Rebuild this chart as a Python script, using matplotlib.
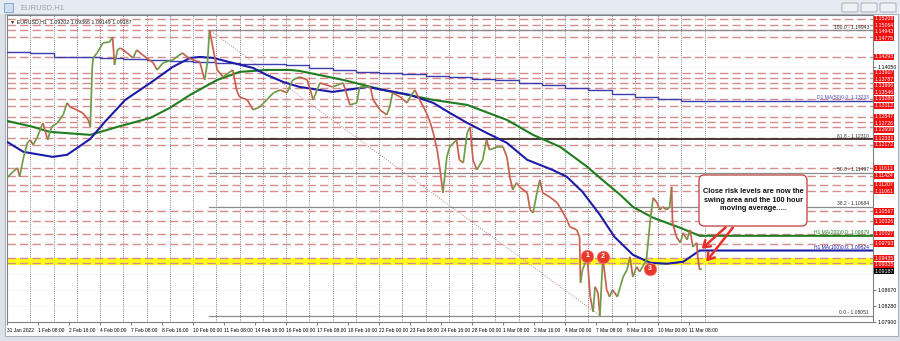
import matplotlib
matplotlib.use("Agg")
import matplotlib.pyplot as plt
import matplotlib.transforms as mtransforms
from matplotlib.collections import LineCollection
from matplotlib.patches import Rectangle, FancyBboxPatch
import numpy as np

plt.rcParams['font.family'] = ['Liberation Sans', 'DejaVu Sans']

# EURUSD H1, price path (bar = hours since 31 Jan 00:00, weekends skipped)
bars = [0, 6, 11, 13, 17, 21, 24, 27, 31, 37, 42, 46, 52, 58, 62, 65, 72, 78, 84, 86,
        88, 89, 93, 99, 106, 109, 111, 114, 117, 124, 130, 134, 140, 151, 155, 161, 171, 181, 186, 192,
        199, 204, 207, 209, 213, 217, 223, 233, 237, 240, 248, 254, 261, 268, 275, 282, 289, 295, 302, 310,
        316, 323, 336, 347, 354, 361, 364, 375, 378, 385, 392, 395, 398, 406, 413, 416, 421, 426, 433, 437,
        440, 444, 447, 450, 454, 457, 464, 467, 471, 475, 478, 481, 485, 491, 495, 498, 506, 512, 516, 519,
        522, 526, 529, 537, 540, 543, 547, 550, 553, 560, 568, 574, 578, 581, 588, 591, 592, 594, 599, 602,
        605, 607, 610, 612, 615, 619, 622, 625, 630, 633, 636, 640, 643, 646, 650, 653, 656, 660, 664, 667,
        671, 674, 677, 681, 684, 686, 687, 691, 695, 698, 702, 705, 708, 712, 713, 715, 717]
prices = [1.11377, 1.11522, 1.11618, 1.11401, 1.11859, 1.12221, 1.12293, 1.12173, 1.12341, 1.12703,
          1.12293, 1.12606, 1.12703, 1.12896, 1.13185, 1.13088, 1.13016, 1.12944, 1.12775, 1.12606,
          1.14052, 1.14269, 1.14390, 1.14631, 1.14655, 1.14775, 1.14101, 1.14462, 1.14510, 1.14390,
          1.14269, 1.14462, 1.14342, 1.14149, 1.13980, 1.14149, 1.14221, 1.14390, 1.14293, 1.14221,
          1.14173, 1.13739, 1.14173, 1.14943, 1.14462, 1.13980, 1.13811, 1.13980, 1.13498, 1.13329,
          1.13257, 1.13016, 1.13088, 1.13257, 1.13426, 1.13498, 1.13426, 1.13739, 1.13811, 1.13739,
          1.13257, 1.13667, 1.13570, 1.13667, 1.13136, 1.13185, 1.13570, 1.13570, 1.13257, 1.13016,
          1.12896, 1.13088, 1.13426, 1.13329, 1.13185, 1.13329, 1.13498, 1.13257, 1.12944, 1.12703,
          1.12462, 1.12052, 1.11570, 1.11016, 1.11883, 1.12124, 1.12293, 1.11811, 1.11739, 1.12462,
          1.12606, 1.11811, 1.11570, 1.11811, 1.12293, 1.12052, 1.12124, 1.12124, 1.11883, 1.11401,
          1.11088, 1.11257, 1.11160, 1.11016, 1.10606, 1.10534, 1.11016, 1.11329, 1.11016, 1.10919,
          1.10775, 1.10534, 1.10365, 1.10196, 1.10124, 1.09955, 1.08847, 1.09160, 1.09449, 1.08509,
          1.08148, 1.08750, 1.08606, 1.08051, 1.09449, 1.08678, 1.08509, 1.08678, 1.08509, 1.08750,
          1.08991, 1.09160, 1.09473, 1.08991, 1.09232, 1.09112, 1.09232, 1.09401, 1.10365, 1.10895,
          1.10775, 1.10606, 1.10678, 1.10606, 1.10678, 1.11160, 1.10293, 1.09955, 1.09811, 1.10052,
          1.09883, 1.10124, 1.09714, 1.09811, 1.09473, 1.09160, 1.09187]

ma100_bars = [0, 17, 47, 62, 86, 101, 122, 148, 171, 189, 199, 213, 233, 254, 268, 285, 302, 336,
              372, 388, 416, 440, 457, 475, 495, 516, 537, 550, 563, 578, 594, 612, 627, 646, 664,
              681, 698, 715]
ma100 = [1.12245, 1.12004, 1.11883, 1.11932, 1.12317, 1.12727, 1.13257, 1.13667, 1.14052, 1.14269,
         1.14293, 1.14269, 1.14149, 1.14028, 1.13860, 1.13691, 1.13570, 1.13450, 1.13570, 1.13498,
         1.13378, 1.13185, 1.12944, 1.12703, 1.12462, 1.12221, 1.11811, 1.11691, 1.11570, 1.11401,
         1.11040, 1.10486, 1.09955, 1.09522, 1.09329, 1.09305, 1.09353, 1.09624]

ma200_bars = [0, 27, 44, 86, 114, 148, 168, 189, 217, 240, 268, 292, 302, 347, 388, 440, 475,
              516, 543, 571, 599, 612, 633, 646, 667, 681, 695, 715]
ma200 = [1.12751, 1.12606, 1.12486, 1.12414, 1.12606, 1.12823, 1.13064, 1.13378, 1.13739, 1.13932,
         1.13980, 1.13980, 1.13956, 1.13739, 1.13498, 1.13257, 1.13136, 1.12775, 1.12414, 1.12124,
         1.11642, 1.11377, 1.10968, 1.10678, 1.10413, 1.10293, 1.10172, 1.09979]

# D1 MA(50), one value per trading day
d1_ma50 = [1.14413, 1.14389, 1.14293, 1.14281, 1.14269, 1.14245, 1.14221, 1.14197, 1.14172, 1.14148,
           1.14124, 1.14112, 1.14100, 1.14028, 1.13980, 1.13931, 1.13907, 1.13883, 1.13835, 1.13811,
           1.13763, 1.13739, 1.13666, 1.13618, 1.13546, 1.13498, 1.13401, 1.13329, 1.13281, 1.13233]

levels = [1.15209, 1.15064, 1.14943, 1.14775, 1.14293, 1.13907, 1.13787, 1.13666, 1.13546,
          1.13280, 1.13112, 1.12847, 1.12726, 1.12606, 1.12331, 1.12172, 1.11611, 1.11424,
          1.11207, 1.11061, 1.10567, 1.10326, 1.10027, 1.09793, 1.09435, 1.09335]
band = (1.09265, 1.09450)

fib_pct = ['100.0', '61.8', '50.0', '38.2', '0.0']
fib_val = [1.14943, 1.12310, 1.11497, 1.10684, 1.08051]
fib_start, fib_end = 209, 612

time_labels = ['31 Jan 2022', '1 Feb 08:00', '2 Feb 16:00', '4 Feb 00:00', '7 Feb 08:00',
               '8 Feb 16:00', '10 Feb 00:00', '11 Feb 08:00', '14 Feb 16:00', '16 Feb 00:00',
               '17 Feb 08:00', '18 Feb 16:00', '22 Feb 00:00', '23 Feb 08:00', '24 Feb 16:00',
               '28 Feb 00:00', '1 Mar 08:00', '2 Mar 16:00', '4 Mar 00:00', '7 Mar 08:00',
               '8 Mar 16:00', '10 Mar 00:00', '11 Mar 08:00']
price_ticks = [1.07900, 1.08280, 1.08670, 1.09050, 1.09430, 1.09820, 1.10200, 1.10590, 1.10970,
               1.11360, 1.11740, 1.12130, 1.12510, 1.12900, 1.13280, 1.13670, 1.14050, 1.14430,
               1.14820, 1.15200]

swing_bars = [599, 615, 664]
swing_prices = [1.09497, 1.09473, 1.09187]
last_price = 1.09187
x_right = 893.9

W, H = 900, 341
def fx(px):
    return px / W
def fy(py):
    return 1 - py / H

fig = plt.figure(figsize=(9, 3.41), dpi=100)
fig.patch.set_facecolor('#dde2e8')

# window chrome (behind the axes)
fig.patches.append(Rectangle((0, fy(14)), 1, fy(0) - fy(14), transform=fig.transFigure,
                             fc='#e6ebf1', ec='none', zorder=-5))
fig.patches.append(Rectangle((fx(5), fy(336)), fx(893), fy(14) - fy(336), transform=fig.transFigure,
                             fc='white', ec='#a8b0ba', lw=0.8, zorder=-5))
fig.patches.append(Rectangle((fx(4), fy(12)), fx(9), fy(3) - fy(12), transform=fig.transFigure,
                             fc='#cfe0f3', ec='#7f9cc0', lw=0.6, zorder=-4))
fig.text(fx(20), fy(7.5), 'EURUSD,H1', fontsize=5.5, color='#9ba1a9', va='center')
for bx in [842, 861, 880]:
    fig.patches.append(FancyBboxPatch((fx(bx), fy(12)), fx(16), fy(3) - fy(12),
                                      boxstyle='round,pad=0,rounding_size=0.002',
                                      transform=fig.transFigure, fc='#eef1f5', ec='#9aa3ad',
                                      lw=0.6, zorder=-4))

ax = fig.add_axes([fx(7), fy(322), fx(866), fy(15) - fy(322)])
ax.set_xlim(0, x_right)
ax.set_ylim(1.07900, 1.15305)
ax.set_facecolor('white')
for s in ax.spines.values():
    s.set_color('#808080')
    s.set_linewidth(0.8)

# grid
for k in range(1, 31):
    ax.axvline(24 * k, color='#555555', lw=0.6, dashes=(1, 1.6), zorder=1)
for t in price_ticks:
    ax.axhline(t, color='#e4e4e4', lw=0.5, dashes=(1, 2), zorder=0.5)

# swing band
ax.axhspan(band[0], band[1], color='#ffff00', alpha=0.9, lw=0, zorder=1.2)

# horizontal levels
for lv in levels:
    ax.axhline(lv, color='#d48c8c', lw=1.0, dashes=(6, 3), zorder=1.5)

# fibonacci retracement
ax.plot([fib_start, fib_end], [fib_val[0], fib_val[-1]], color='#c08080', lw=0.7,
        dashes=(1, 1.5), zorder=2)
for pct, v in zip(fib_pct, fib_val):
    dark = pct == '61.8'
    ax.plot([fib_start, x_right], [v, v], color='#3b2b2b' if dark else '#8c8c8c',
            lw=1.3 if dark else 0.9, zorder=2)
    ax.text(x_right - 4, v + 0.00012, f'{pct} - {v:.5f}', fontsize=3.6, color='#333333',
            ha='right', va='bottom', zorder=3)

# moving averages
ax.step(np.append(np.arange(len(d1_ma50)) * 24, x_right), np.append(d1_ma50, d1_ma50[-1]),
        where='post', color='#3d3db0', lw=1.0, zorder=3)
ax.plot(ma200_bars + [x_right], ma200 + [ma200[-1]], color='#1f7d1f', lw=1.5, zorder=3)
ax.plot(ma100_bars + [x_right], ma100 + [ma100[-1]], color='#1c1ca8', lw=1.5, zorder=3)
ax.text(x_right - 4, d1_ma50[-1] + 0.0001, f'D1 MA(50)0.0: {d1_ma50[-1]:.5f}', fontsize=3.6,
        color='#4a4ac0', ha='right', va='bottom', zorder=3)
ax.text(x_right - 4, ma200[-1] + 0.0001, f'H1 MA(200)0.0: {ma200[-1]:.5f}', fontsize=3.6,
        color='#1f7d1f', ha='right', va='bottom', zorder=3)
ax.text(x_right - 4, ma100[-1] + 0.0001, f'H1 MA(100)0.0: {ma100[-1]:.5f}', fontsize=3.6,
        color='#1c1ca8', ha='right', va='bottom', zorder=3)

# price path, coloured by direction
pts = np.column_stack([bars, prices])
segs = np.stack([pts[:-1], pts[1:]], axis=1)
cols = np.where(np.diff(prices) >= 0, '#6f9c47', '#c8604f')
ax.add_collection(LineCollection(segs, colors=cols, linewidths=1.25, zorder=4))

# numbered swing points
for i, (b, p) in enumerate(zip(swing_bars, swing_prices), start=1):
    ax.plot(b, p, 'o', ms=9, mfc='#e8382b', mec='#f07a70', mew=0.5, zorder=6)
    ax.text(b, p, str(i), color='white', fontsize=5, fontweight='bold', ha='center',
            va='center', zorder=7)

# price scale labels: stacked red boxes for the levels, like the terminal does
px_price = (1.15305 - 1.07900) / 307
gap = 6.4 * px_price
tags = sorted([(lv, '#f01010') for lv in levels] + [(last_price, 'black')], reverse=True)
tag_pos = []
for lv, c in tags:
    pos = lv if not tag_pos or tag_pos[-1][0] - lv >= gap else tag_pos[-1][0] - gap
    tag_pos.append((pos, lv, c))

blend = mtransforms.blended_transform_factory(ax.transAxes, ax.transData)
for pos, lv, c in tag_pos:
    ax.text(1.0015, pos, f'{lv:.5f}', transform=blend, fontsize=3.8, color='white',
            va='center', ha='left', clip_on=False, zorder=9 if c == 'black' else 8,
            bbox=dict(boxstyle='square,pad=0.12', fc=c, ec='none'))

# black scale numbers only where no tag hides them
shown = [t for t in price_ticks if min(abs(t - p) for p, _, _ in tag_pos) > 5.9 * px_price]
ax.set_xticks(np.arange(len(time_labels)) * 32)
ax.set_xticklabels(time_labels, ha='left')
ax.tick_params(axis='x', labelsize=3.5, pad=2, length=2, color='#808080')
ax.yaxis.tick_right()
ax.set_yticks(shown)
ax.set_yticklabels([f'{t:.5f}' for t in shown])
ax.tick_params(axis='y', labelsize=3.8, pad=1.5, length=2, color='#808080')

# chart header
ax.text(0.004, 0.985, '\u25bc EURUSD,H1  1.09202 1.09366 1.09149 1.09187', transform=ax.transAxes,
        fontsize=3.8, va='top', ha='left', color='#222222', zorder=8)

# comment box and arrows
fig.patches.append(FancyBboxPatch((fx(699), fy(226)), fx(108), fy(175) - fy(226),
                                  boxstyle='round,pad=0,rounding_size=0.006',
                                  mutation_aspect=W / H, transform=fig.transFigure,
                                  fc='white', ec='#c0504d', lw=1.0, zorder=10))
fig.text(fx(753), fy(200), 'Close risk levels are now the\nswing area and the 100 hour\nmoving average.....',
         fontsize=5.3, fontweight='bold', ha='center', va='center', linespacing=1.25,
         color='#111111', zorder=11)
for (x0, y0), (x1, y1) in [((744, 1.10230), (715, 1.09620)), ((751, 1.10230), (720, 1.09305))]:
    ax.annotate('', xy=(x1, y1), xytext=(x0, y0),
                arrowprops=dict(arrowstyle='->,head_length=0.45,head_width=0.3',
                                color='#e8302a', lw=1.8), zorder=9)

fig.savefig('out.png', dpi=100, facecolor=fig.get_facecolor())
